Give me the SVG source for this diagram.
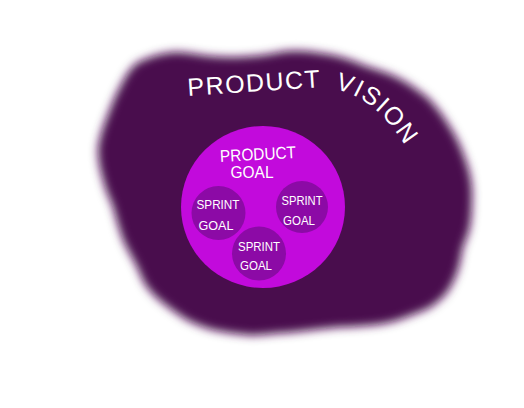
<svg xmlns="http://www.w3.org/2000/svg" width="524" height="408" viewBox="0 0 524 408">
  <defs>
    <filter id="soft" x="-20%" y="-20%" width="140%" height="140%">
      <feGaussianBlur stdDeviation="5"/>
    </filter>
    <path id="visionPath" d="M188,96 L322,87 C352,90 385,104 418,168"/>
  </defs>
  <style>
    .hand { font-family: "Liberation Sans", "DejaVu Sans", sans-serif; fill: #ffffff; }
    .big { font-size: 25px; }
    .mid { font-size: 17px; }
    .small { font-size: 13px; }
    .sprint { fill: #8c0aa6; }
  </style>
  <rect width="524" height="408" fill="#ffffff"/>
  <g id="product-vision">
    <path filter="url(#soft)" fill="#480c4e" d="M137,63 C150,56 163,53 175,52 C190,52 205,57 230,57 C250,57 267,55 280,52 C297,49 315,52 333,55 C345,58 355,61 363,65 C377,70 390,73 400,79 C412,85 420,92 427,97 C437,107 444,117 450,127 C456,136 460,145 463,153 C470,170 473,185 472,200 C472,212 471,220 470,227 C468,235 465,242 463,247 C461,256 460,265 457,273 C453,283 449,291 443,297 C435,305 427,310 417,313 C407,317 397,321 387,323 C373,326 360,326 347,327 C335,327 323,329 313,330 C300,331 290,333 280,333 C268,334 257,336 247,335 C235,334 224,332 213,330 C203,327 195,324 187,320 C178,314 170,309 163,303 C156,298 151,292 147,287 C142,280 140,273 137,267 C132,257 127,249 123,240 C119,229 116,218 113,207 C109,197 105,189 103,180 C100,170 98,160 98,150 C99,138 103,127 107,117 C111,106 115,96 120,87 C125,77 130,68 137,63 Z"/>
    <text class="hand big" letter-spacing="1.5" word-spacing="5"><textPath href="#visionPath">PRODUCT VISION</textPath></text>
  </g>
  <g id="product-goal">
    <ellipse cx="263" cy="207" rx="82" ry="81" fill="#c20adc"/>
    <text class="hand mid" x="258" y="160" text-anchor="middle" textLength="76" lengthAdjust="spacingAndGlyphs" transform="rotate(-3 258 155)">PRODUCT</text>
    <text class="hand mid" x="252" y="178" text-anchor="middle" textLength="43" lengthAdjust="spacingAndGlyphs">GOAL</text>
  </g>
  <g id="sprint-goal-1">
    <circle class="sprint" cx="218.5" cy="213" r="27"/>
    <text class="hand small" x="218" y="209" text-anchor="middle" textLength="43" lengthAdjust="spacingAndGlyphs">SPRINT</text>
    <text class="hand small" x="216" y="230" text-anchor="middle" textLength="35" lengthAdjust="spacingAndGlyphs">GOAL</text>
  </g>
  <g id="sprint-goal-2">
    <circle class="sprint" cx="302" cy="207" r="26"/>
    <text class="hand small" x="302" y="205" text-anchor="middle" textLength="41" lengthAdjust="spacingAndGlyphs">SPRINT</text>
    <text class="hand small" x="299" y="225" text-anchor="middle" textLength="32" lengthAdjust="spacingAndGlyphs">GOAL</text>
  </g>
  <g id="sprint-goal-3">
    <circle class="sprint" cx="259" cy="253.5" r="27"/>
    <text class="hand small" x="259" y="251" text-anchor="middle" textLength="42" lengthAdjust="spacingAndGlyphs">SPRINT</text>
    <text class="hand small" x="256" y="270" text-anchor="middle" textLength="32" lengthAdjust="spacingAndGlyphs">GOAL</text>
  </g>
</svg>
